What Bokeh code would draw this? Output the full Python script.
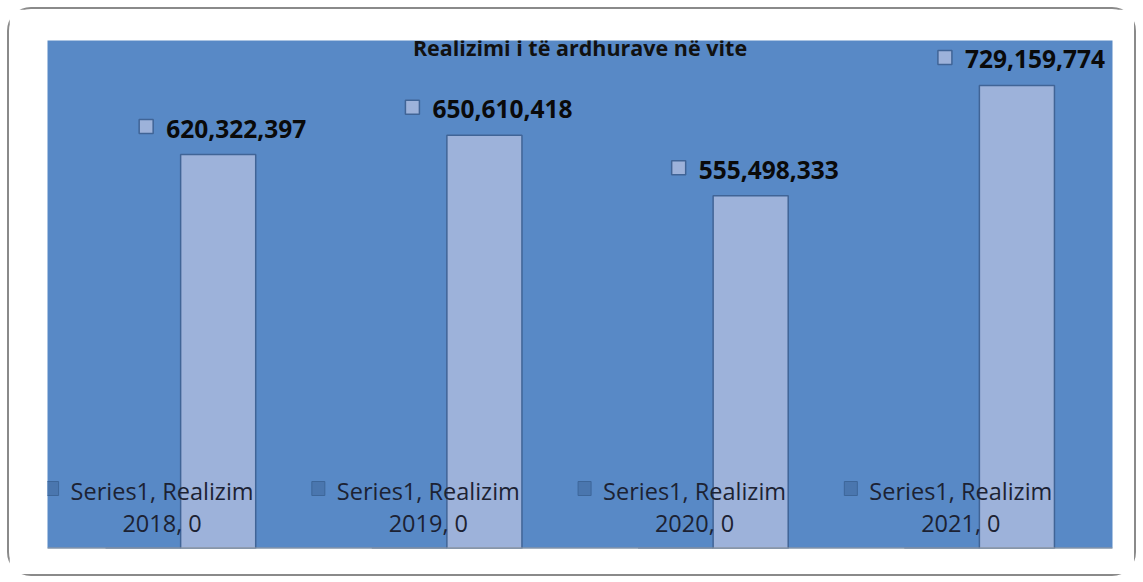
from bokeh.plotting import figure
from bokeh.models import Range1d, ColumnDataSource, Span, Label
from bokeh.core.properties import value
from bokeh.embed import file_html
from bokeh.resources import INLINE

# ---- data ----
years = ["2018", "2019", "2020", "2021"]
realizim = [620322397, 650610418, 555498333, 729159774]
series1 = [0, 0, 0, 0]
series_name = "Series1"
category_name = "Realizim"
title_text = "Realizimi i të ardhurave në vite"
y_max = 800000000

# ---- layout constants ----
FW, FH = 1065, 508
px_x = len(years) / FW
px_y = y_max / FH
bar_w = 0.282
BG = "#5889C6"
BAR = "#9DB2DA"
EDGE = "#406496"
FONT = "Open Sans"

p = figure(width=1133, height=571, frame_width=FW, frame_height=FH,
           x_range=Range1d(0, len(years)), y_range=Range1d(0, y_max),
           output_backend="svg", toolbar_location=None,
           min_border_left=38, min_border_right=22, min_border_top=31, min_border_bottom=26)
p.xaxis.visible = False
p.yaxis.visible = False
p.grid.visible = False
p.outline_line_color = None
p.background_fill_color = BG
p.border_fill_color = "white"
p.styles = {"border": "2px solid #8a8a8a", "border-radius": "24px",
            "box-sizing": "border-box", "margin-left": "7px", "margin-top": "7px"}

xs = [i + 0.5 for i in range(len(years))]
src = ColumnDataSource(dict(
    x_real=[x + bar_w / 2 for x in xs],
    x_ser=[x - bar_w / 2 for x in xs],
    real=realizim,
    ser=series1,
    real_lbl=[f"{v:,}" for v in realizim],
    ser_lbl1=[f"{series_name}, {category_name}" for _ in years],
    ser_lbl2=[f"{y}, {v}" for y, v in zip(years, series1)],
))

# bars
p.vbar(x="x_real", top="real", width=bar_w, bottom=0, source=src,
       fill_color=BAR, line_color=EDGE, line_width=1.5)
p.vbar(x="x_ser", top="ser", width=bar_w, bottom=0, source=src,
       fill_color="#4A76AE", line_color=EDGE, line_width=1.5)

p.add_layout(Span(location=0, dimension="width", line_color="#9a9a9a", line_width=2))

# value labels
p.text(x="x_real", y="real", text="real_lbl", source=src, x_offset=-52, y_offset=-26,
       text_align="left", text_baseline="middle", text_font=value(FONT),
       text_font_style="bold", text_font_size="24.5px", text_color="#0a0a0a")
src.data["key_x"] = [x - 72 * px_x for x in src.data["x_real"]]
src.data["key_y"] = [v + 28 * px_y for v in realizim]
p.rect(x="key_x", y="key_y", width=14, height=14, width_units="screen", height_units="screen",
       source=src, fill_color=BAR, line_color=EDGE, line_width=1.5)

# zero-series labels
p.text(x="x_ser", y="ser", text="ser_lbl1", source=src, x_offset=19, y_offset=-58,
       text_align="center", text_baseline="middle", text_font=value(FONT),
       text_font_size="23.5px", text_color="#1c2233")
p.text(x="x_ser", y="ser", text="ser_lbl2", source=src, x_offset=19, y_offset=-26,
       text_align="center", text_baseline="middle", text_font=value(FONT),
       text_font_size="23.5px", text_color="#1c2233")
src.data["key2_x"] = [x - 91 * px_x for x in src.data["x_ser"]]
src.data["key2_y"] = [v + 60 * px_y for v in series1]
p.rect(x="key2_x", y="key2_y", width=13, height=14, width_units="screen", height_units="screen",
       source=src, fill_color="#4A76AE", line_color="#3D6699", line_width=1)

# title
p.add_layout(Label(x=len(years) / 2, y=y_max, text=title_text, x_offset=0, y_offset=-7,
                   text_align="center", text_baseline="middle", text_font=FONT,
                   text_font_style="bold", text_font_size="21.5px", text_color="#111111"))

open("out.html", "w").write(file_html(p, INLINE))
